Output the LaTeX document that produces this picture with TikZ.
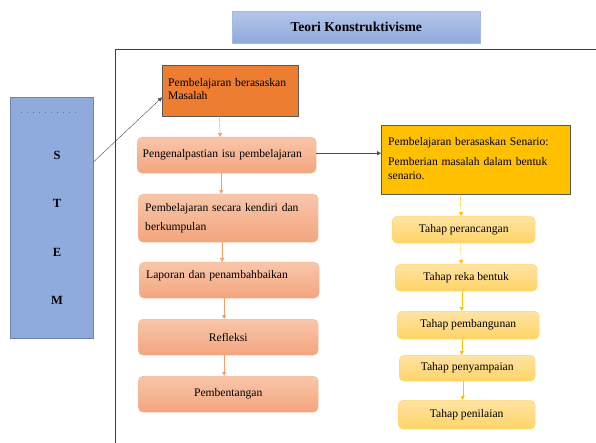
\documentclass[tikz,border=0pt]{standalone}
\usepackage{fontspec}
\setmainfont{Liberation Serif}
\usetikzlibrary{arrows.meta}

\definecolor{pbmorange}{HTML}{ED7D31}
\definecolor{salmontop}{HTML}{F8C6AA}
\definecolor{salmonbot}{HTML}{F3A57E}
\definecolor{salmonline}{HTML}{F6B996}
\definecolor{orangearrow}{HTML}{F4A06A}
\definecolor{senariogold}{HTML}{FFC000}
\definecolor{lighttop}{HTML}{FFE3A3}
\definecolor{lightbot}{HTML}{FFD466}
\definecolor{lightline}{HTML}{FFD966}
\definecolor{stemblue}{HTML}{8FAADC}
\definecolor{stemline}{HTML}{7084A8}
\definecolor{titletop}{HTML}{B4C6EA}
\definecolor{titlebot}{HTML}{8EA9DB}

\tikzset{
  framel/.style={draw=black!75, line width=1pt},
  titlebox/.style={draw=titlebot!80, top color=titletop, bottom color=titlebot,
    anchor=north west, font=\fontsize{13.6}{16}\selectfont\bfseries},
  stembox/.style={draw=stemline, fill=stemblue, anchor=north west},
  stemletter/.style={font=\fontsize{12.5}{14}\selectfont\bfseries},
  pbmbox/.style={draw=black!65, fill=pbmorange, anchor=north west, align=left,
    inner sep=6pt, font=\fontsize{11.6}{13}\selectfont},
  stepbox/.style={draw=salmonline, rounded corners=5pt, top color=salmontop,
    bottom color=salmonbot, anchor=north west, font=\fontsize{11.6}{13}\selectfont},
  senariobox/.style={draw=black!65, fill=senariogold, anchor=north west, align=left,
    inner sep=7pt, font=\fontsize{11.6}{14}\selectfont},
  tahapbox/.style={draw=lightline, rounded corners=5pt, top color=lighttop,
    bottom color=lightbot, anchor=north west, font=\fontsize{11.6}{13}\selectfont},
  oarrow/.style={draw=orangearrow, -{Triangle[length=4pt,width=4pt]}},
  yarrow/.style={draw=senariogold, -{Triangle[length=4pt,width=4pt]}},
  karrow/.style={draw=black!70, -{Triangle[length=4pt,width=4pt]}}
}

\begin{document}
\begin{tikzpicture}[x=1pt,y=-1pt]
\useasboundingbox (0,0) rectangle (596,443);

\draw[framel] (596,50) -- (115,50) -- (115,443);

\node[titlebox, minimum width=248pt, minimum height=32pt] (title) at (232,11) {Teori Konstruktivisme};

\node[stembox, minimum width=83pt, minimum height=241pt] (stem) at (10,97) {};
\draw[black!55, line width=1pt, dash pattern=on 1pt off 5pt] (21,113) -- (80,113);
\node[stemletter] (s) at (57,155) {S};
\node[stemletter] (t) at (57,203) {T};
\node[stemletter] (e) at (57,252) {E};
\node[stemletter] (m) at (57,300) {M};

\node[pbmbox, text width=124pt, text height=15pt, text depth=24pt] (pbm) at (162,65)
  {Pembelajaran berasaskan\\Masalah};

\node[stepbox, minimum width=179pt, minimum height=36pt, text width=168pt, align=left] (kenal) at (137,137)
  {Pengenalpastian isu pembelajaran};
\node[stepbox, minimum width=180pt, minimum height=48pt, text width=166pt, align=left] (kendiri) at (138,194)
  {Pembelajaran secara kendiri dan\\[6pt]berkumpulan};
\node[stepbox, minimum width=180pt, text width=166pt, align=left, inner ysep=6pt,
  text height=10pt, text depth=14pt] (laporan) at (139,262)
  {Laporan dan penambahbaikan};
\node[stepbox, minimum width=180pt, minimum height=36pt] (refleksi) at (138,319) {Refleksi};
\node[stepbox, minimum width=180pt, minimum height=36pt] (bentang) at (138,376) {Pembentangan};

\node[senariobox, text width=175pt, text height=13pt, text depth=42pt] (senario) at (381,125)
  {Pembelajaran berasaskan Senario:\\[6pt]Pemberian masalah dalam bentuk senario.};

\node[tahapbox, minimum width=143pt, minimum height=27pt] (tahap1) at (392,216) {Tahap perancangan};
\node[tahapbox, minimum width=142pt, minimum height=27pt] (tahap2) at (395,264) {Tahap reka bentuk};
\node[tahapbox, minimum width=142pt, minimum height=28pt] (tahap3) at (397,311) {Tahap pembangunan};
\node[tahapbox, minimum width=136pt, minimum height=26pt] (tahap4) at (399,355) {Tahap penyampaian};
\node[tahapbox, minimum width=137pt, minimum height=29pt] (tahap5) at (398,400) {Tahap penilaian};

\draw[karrow] ([yshift=-65pt]stem.north east) -- ([yshift=19pt]pbm.south west);
\draw[oarrow] ([xshift=-11pt]pbm.south) -- ([xshift=-6.5pt]kenal.north);
\draw[oarrow] ([xshift=-5.5pt]kenal.south) -- ([xshift=-7pt]kendiri.north);
\draw[oarrow] ([xshift=-6pt]kendiri.south) -- ([xshift=-7pt]laporan.north);
\draw[oarrow] ([xshift=-5pt]laporan.south) -- ([xshift=-4pt]refleksi.north);
\draw[oarrow] ([xshift=-4pt]refleksi.south) -- ([xshift=-4pt]bentang.north);
\draw[karrow] ([yshift=2pt]kenal.east) -- ([yshift=6.5pt]senario.west);
\draw[yarrow] ([xshift=-15.5pt]senario.south) -- ([xshift=-2.5pt]tahap1.north);
\draw[yarrow] ([xshift=-3pt]tahap1.south) -- ([xshift=-5pt]tahap2.north);
\draw[yarrow] ([xshift=-4.5pt]tahap2.south) -- ([xshift=-6.5pt]tahap3.north);
\draw[yarrow] ([xshift=-6.5pt]tahap3.south) -- ([xshift=-5.5pt]tahap4.north);
\draw[yarrow] ([xshift=-4.5pt]tahap4.south) -- ([xshift=-4pt]tahap5.north);
\end{tikzpicture}
\end{document}
